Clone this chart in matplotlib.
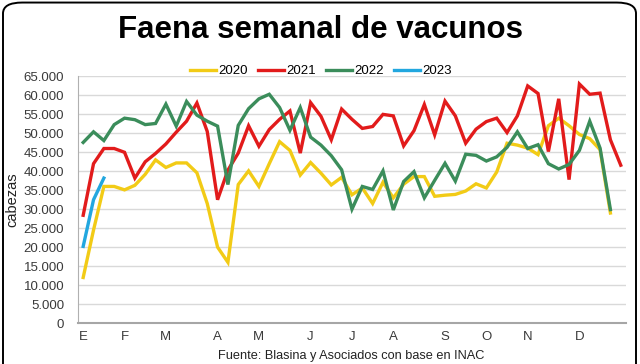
import matplotlib
matplotlib.use("Agg")
import matplotlib.pyplot as plt
from matplotlib.patches import FancyBboxPatch
from matplotlib.ticker import FuncFormatter, MultipleLocator

# ========= datos (miles de cabezas por semana) =========
semanas = list(range(1, 54))
meses = ["E", "F", "M", "A", "M", "J", "J", "A", "S", "O", "N", "D"]
semana_mes = [0, 4, 8, 13, 17, 22, 26, 30, 35, 39, 43, 48]

faena_2020 = [12.0, 24.5, 36.0, 36.0, 35.1, 36.3, 39.2, 43.0, 41.0, 42.2,
              42.2, 39.6, 31.5, 20.0, 16.0, 36.5, 40.1, 36.0, 42.0, 47.8,
              45.5, 39.0, 42.3, 39.5, 36.4, 38.4, 33.8, 35.6, 31.5, 37.1,
              33.0, 36.6, 38.6, 38.6, 33.4, 33.7, 33.9, 34.8, 36.7, 35.6,
              39.8, 47.4, 46.9, 46.1, 44.4, 52.0, 54.0, 52.0, 49.7, 48.6,
              45.7, 29.0]
faena_2021 = [28.4, 42.0, 46.0, 46.0, 45.0, 38.2, 42.5, 44.7, 47.2, 50.3,
              53.2, 58.0, 50.5, 32.5, 40.3, 44.8, 52.0, 46.6, 51.0, 53.7,
              55.9, 44.8, 58.1, 54.5, 48.3, 56.4, 53.7, 51.3, 51.8, 55.0,
              54.6, 46.7, 50.7, 57.6, 49.6, 58.5, 54.6, 47.4, 51.1, 53.1,
              54.0, 50.2, 54.6, 62.5, 60.5, 45.2, 59.1, 37.8, 63.0, 60.3,
              60.6, 48.3, 41.6]
faena_2022 = [47.6, 50.4, 48.1, 52.3, 54.0, 53.6, 52.3, 52.6, 57.7, 51.9,
              58.4, 54.8, 53.2, 51.9, 36.5, 52.1, 56.5, 59.1, 60.3, 56.8,
              50.8, 56.8, 49.0, 46.9, 44.1, 40.4, 30.0, 36.0, 35.2, 40.1,
              29.8, 37.3, 39.9, 33.0, 37.6, 42.1, 37.4, 44.5, 44.2, 42.7,
              43.8, 46.3, 50.4, 46.0, 47.0, 42.0, 40.6, 41.8, 45.5, 53.2,
              46.1, 29.9]
faena_2023 = [20.2, 32.5, 38.2]

series = [
    ("2020", faena_2020, "#F2CB16"),
    ("2021", faena_2021, "#E21B1B"),
    ("2022", faena_2022, "#3B8D5B"),
    ("2023", faena_2023, "#22A7DF"),
]

plt.rcParams["font.family"] = ["Liberation Sans", "DejaVu Sans"]

fig = plt.figure(figsize=(6.4, 3.64), dpi=100)
ax = fig.add_axes([0.1219, 0.1126, 0.8561, 0.6774])

for nombre, valores, color in series:
    x = [semanas.index(s) for s in semanas[: len(valores)]]
    ax.plot(x, [v * 1000 for v in valores], color=color, lw=2.4,
            label=nombre, solid_joinstyle="miter")

ax.set_xlim(-0.5, 52.5)
ax.set_ylim(0, 65000)
ax.yaxis.set_major_locator(MultipleLocator(5000))
ax.yaxis.set_major_formatter(
    FuncFormatter(lambda v, p: f"{int(v):,}".replace(",", "."))
)
ax.set_xticks(semana_mes)
ax.set_xticklabels(meses)
ax.tick_params(axis="both", length=0, labelsize=9.5, colors="#3a3a3a")
ax.tick_params(axis="x", pad=6)
ax.tick_params(axis="y", pad=10)
ax.grid(axis="y", color="#d9d9d9", lw=1.0)
ax.set_axisbelow(True)
for lado in ["top", "right"]:
    ax.spines[lado].set_visible(False)
ax.spines["left"].set_color("#b0b0b0")
ax.spines["bottom"].set_color("#a6a6a6")
ax.spines["bottom"].set_linewidth(1.5)
ax.set_ylabel("cabezas", fontsize=10.5, color="#222222", labelpad=3)

ax.legend(loc="lower center", bbox_to_anchor=(0.443, 0.975), ncol=4,
          frameon=False, fontsize=9.5, handlelength=2.0, handletextpad=0.15,
          columnspacing=0.75, borderaxespad=0.0)

fig.text(0.5, 0.918, "Faena semanal de vacunos", ha="center", va="center",
         fontsize=22.5, fontweight="bold", color="black")
fig.text(0.549, 0.022, "Fuente: Blasina y Asociados con base en INAC",
         ha="center", va="center", fontsize=9.2, color="#222222")

marco = FancyBboxPatch((3 / 640, -0.1), 633 / 640, 1.093,
                       boxstyle="round,pad=0,rounding_size=0.03",
                       transform=fig.transFigure, fill=False,
                       edgecolor="black", lw=1.4)
fig.patches.append(marco)

fig.savefig("out.png", dpi=100)
